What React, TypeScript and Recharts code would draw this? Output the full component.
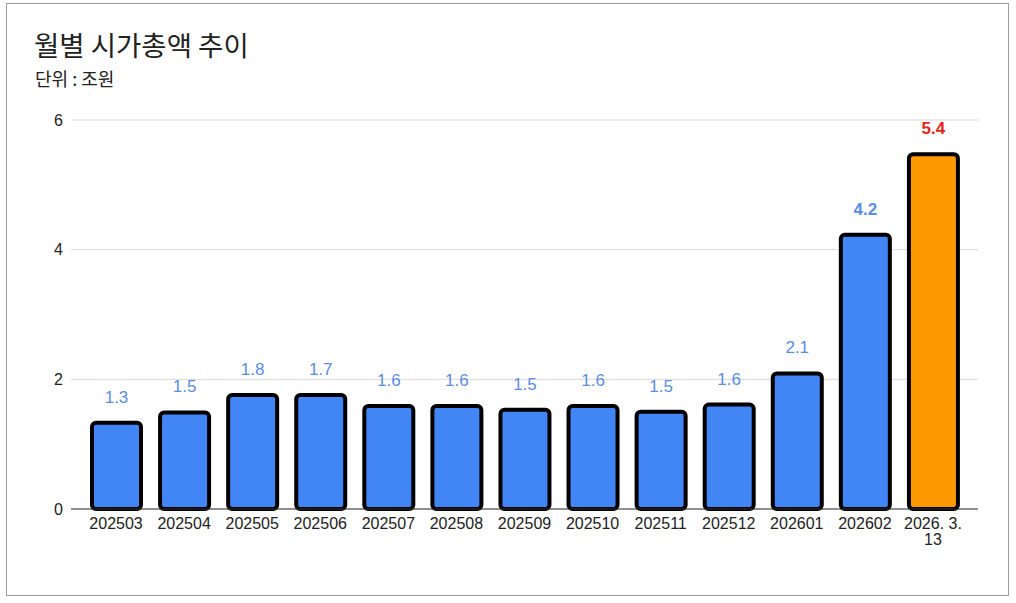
import { BarChart, Bar, XAxis, YAxis, CartesianGrid, Cell, LabelList, Text } from 'recharts';

const months = ['202503', '202504', '202505', '202506', '202507', '202508', '202509', '202510', '202511', '202512', '202601', '202602', '2026. 3. 13'];
const marketCap = [1.33, 1.49, 1.76, 1.76, 1.59, 1.59, 1.53, 1.59, 1.5, 1.61, 2.09, 4.23, 5.47];
const valueLabels = ['1.3', '1.5', '1.8', '1.7', '1.6', '1.6', '1.5', '1.6', '1.5', '1.6', '2.1', '4.2', '5.4'];
const yTicks = [0, 2, 4, 6];

const data = months.map((m, i) => ({ month: m, value: marketCap[i], label: valueLabels[i] }));
const lastIdx = months.length - 1;
const numFont = '"Liberation Sans", Arial, sans-serif';

const XTick = (props: any) => {
  const { x, y, payload } = props;
  return (
    <Text
      x={x}
      y={y + 1}
      width={64}
      textAnchor="middle"
      verticalAnchor="start"
      lineHeight={16}
      fill="#222"
      fontSize={16}
      fontFamily={numFont}
    >
      {payload.value}
    </Text>
  );
};

const ValueLabel = (props: any) => {
  const { x, y, width, index } = props;
  const isLast = index === lastIdx;
  const isBig = marketCap[index] >= 4;
  return (
    <text
      x={x + width / 2}
      y={y - 20}
      textAnchor="middle"
      fill={isLast ? '#e8231c' : '#5b8de6'}
      fontWeight={isLast || isBig ? 700 : 400}
      fontSize={17}
      fontFamily={numFont}
    >
      {data[index].label}
    </text>
  );
};

export default function App() {
  return (
    <div style={{ position: 'fixed', left: 0, top: 0, width: 1016, height: 603, background: '#fff' }}>
      <div
        style={{
          position: 'absolute',
          left: 6,
          top: 3,
          width: 1003,
          height: 593,
          border: '1px solid #9e9e9e',
          boxSizing: 'border-box',
        }}
      />
      <div
        style={{
          position: 'absolute',
          left: 34,
          top: 26,
          fontSize: 27.5,
          fontFamily: '"Noto Sans CJK KR", sans-serif',
          color: '#222',
          lineHeight: '36px',
        }}
      >
        월별 시가총액 추이
      </div>
      <div
        style={{
          position: 'absolute',
          left: 35,
          top: 66,
          fontSize: 18,
          fontFamily: '"Noto Sans CJK KR", sans-serif',
          color: '#222',
          lineHeight: '24px',
        }}
      >
        단위 : 조원
      </div>
      <div style={{ position: 'absolute', left: 0, top: 0 }}>
        <BarChart width={1016} height={603} data={data} margin={{ top: 120, right: 38, bottom: 54, left: 11 }}>
          <CartesianGrid vertical={false} stroke="#d9d9d9" />
          <XAxis
            dataKey="month"
            interval={0}
            tickLine={false}
            axisLine={{ stroke: '#333' }}
            padding={{ left: 11, right: 11 }}
            height={40}
            tick={<XTick />}
          />
          <YAxis
            width={60}
            domain={[0, 6]}
            ticks={yTicks}
            tickLine={false}
            axisLine={false}
            tick={{ fill: '#222', fontSize: 16, fontFamily: numFont }}
          />
          <Bar dataKey="value" barSize={49} stroke="#000" strokeWidth={4} radius={4} isAnimationActive={false}>
            {data.map((d, i) => (
              <Cell key={d.month} fill={i === lastIdx ? '#ff9900' : '#4285f4'} />
            ))}
            <LabelList dataKey="value" content={<ValueLabel />} />
          </Bar>
        </BarChart>
      </div>
    </div>
  );
}
